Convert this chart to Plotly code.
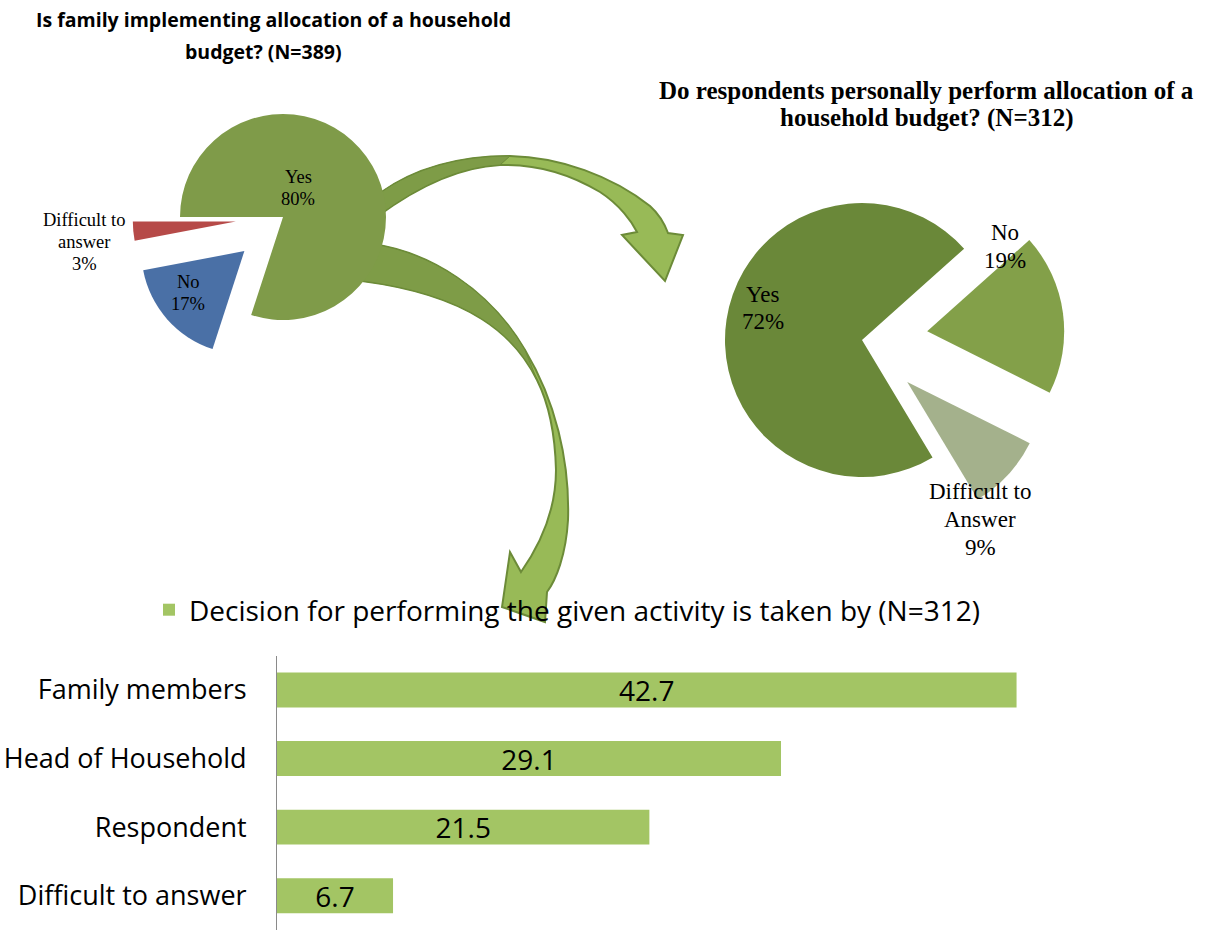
import plotly.graph_objects as go

W, H = 1210, 930

# --- data -------------------------------------------------------------
family_labels = ["Yes", "No", "Difficult to answer"]
family_values = [80, 17, 3]

personal_labels = ["Yes", "No", "Difficult to Answer"]
personal_values = [72, 19, 9]

decision_categories = ["Family members", "Head of Household", "Respondent", "Difficult to answer"]
decision_values = [42.7, 29.1, 21.5, 6.7]
decision_name = "Decision for performing the given activity is taken by (N=312)"

family_title = ["Is family implementing allocation of a household", "budget? (N=389)"]
personal_title = ["Do respondents personally perform allocation of a", "household budget? (N=312)"]

# --- styling ------------------------------------------------------------
family_colors = ["#7f9b49", "#4a70a6", "#b64a48"]
family_pull = [0, 0.5, 0.46]
personal_colors = ["#6a8839", "#83a049", "#a4b18c"]
personal_pull = [0, 0.48, 0.45]
bar_color = "#a3c564"
arrow_light = "#98ba57"
arrow_dark = "#7e9c47"
arrow_line = "#6c8b38"

SANS = "Open Sans"
SERIF = "Liberation Serif"


def px(x):
    return x / W


def py(y):
    return 1 - y / H


def pie_domain(cx, cy, r, max_pull):
    half = r * (1 + max_pull)
    return dict(x=[px(cx - half), px(cx + half)], y=[py(cy + half), py(cy - half)])


def path_paper(cmds):
    """Build an SVG path in paper coordinates from pixel-space commands."""
    out = []
    for c in cmds:
        if isinstance(c, str):
            out.append(c)
        else:
            out.append(f"{px(c[0]):.5f},{py(c[1]):.5f}")
    return " ".join(out)


fig = go.Figure()

# left pie: family allocation
fig.add_trace(go.Pie(
    labels=family_labels, values=family_values, sort=False,
    direction="clockwise", rotation=270, pull=family_pull,
    marker=dict(colors=family_colors, line=dict(width=0)),
    textinfo="none", hoverinfo="label+percent", showlegend=False,
    domain=pie_domain(283, 217, 103, max(family_pull)),
))

# right pie: personal allocation
fig.add_trace(go.Pie(
    labels=personal_labels, values=personal_values, sort=False,
    direction="clockwise", rotation=149, pull=personal_pull,
    marker=dict(colors=personal_colors, line=dict(width=0)),
    textinfo="none", hoverinfo="label+percent", showlegend=False,
    domain=pie_domain(862, 340, 137, max(personal_pull)),
))

# horizontal bars: who takes the decision
fig.add_trace(go.Bar(
    y=decision_categories, x=decision_values, orientation="h",
    name=decision_name, marker=dict(color=bar_color, line=dict(width=0)),
    text=[f"{v}" for v in decision_values], textposition="inside",
    insidetextanchor="middle", constraintext="none",
    textfont=dict(family=SANS, size=28, color="#000000"),
    showlegend=True, hoverinfo="y+x",
))

# curved connector arrows (drawn beneath the pies): light body + darker root
top_arrow = path_paper([
    "M", (380, 193),
    "C", (415, 168), (460, 156), (510, 156),
    "C", (560, 157), (612, 176), (650, 206),
    "C", (660, 215), (665, 225), (668, 233),
    "L", (683, 235), "L", (665, 281), "L", (622, 235), "L", (637, 232),
    "C", (632, 222), (620, 205), (600, 192),
    "C", (565, 171), (530, 164), (500, 165),
    "C", (460, 167), (420, 185), (378, 216),
    "Z",
])
top_arrow_root = path_paper([
    "M", (380, 193),
    "C", (415, 168), (460, 156), (510, 156),
    "L", (500, 165),
    "C", (460, 167), (420, 185), (378, 216),
    "Z",
])
bottom_arrow = path_paper([
    "M", (372, 244),
    "C", (430, 252), (490, 290), (525, 350),
    "C", (555, 400), (570, 460), (568, 520),
    "C", (566, 555), (556, 580), (547, 592),
    "L", (545, 622), "L", (502, 607), "L", (510, 552), "L", (521, 572),
    "C", (540, 545), (556, 510), (556, 470),
    "C", (555, 430), (547, 400), (537, 380),
    "C", (515, 335), (470, 295), (362, 281),
    "Z",
])
bottom_arrow_root = path_paper([
    "M", (372, 244),
    "C", (430, 252), (490, 290), (525, 350),
    "L", (537, 380),
    "C", (515, 335), (470, 295), (362, 281),
    "Z",
])
shapes = [
    dict(type="path", path=top_arrow, xref="paper", yref="paper", layer="below",
         fillcolor=arrow_light, line=dict(color=arrow_line, width=2)),
    dict(type="path", path=top_arrow_root, xref="paper", yref="paper", layer="below",
         fillcolor=arrow_dark, line=dict(color=arrow_line, width=1)),
    dict(type="path", path=bottom_arrow, xref="paper", yref="paper", layer="below",
         fillcolor=arrow_light, line=dict(color=arrow_line, width=2)),
    dict(type="path", path=bottom_arrow_root, xref="paper", yref="paper", layer="below",
         fillcolor=arrow_dark, line=dict(color=arrow_line, width=1)),
]

annotations = []


def add_lines(x, y0, lines, spacing, font):
    for i, line in enumerate(lines):
        annotations.append(dict(x=px(x), y=py(y0 + i * spacing), text=line, showarrow=False,
                                xanchor="center", yanchor="middle", xref="paper", yref="paper",
                                font=font))


# titles
title_sans = dict(family=SANS, size=19.5, color="#000000")
annotations.append(dict(x=px(273), y=py(20), text=f"<b>{family_title[0]}</b>", showarrow=False,
                        xanchor="center", yanchor="middle", xref="paper", yref="paper", font=title_sans))
annotations.append(dict(x=px(263), y=py(52), text=f"<b>{family_title[1]}</b>", showarrow=False,
                        xanchor="center", yanchor="middle", xref="paper", yref="paper", font=title_sans))
add_lines(926, 90, [f"<b>{t}</b>" for t in personal_title], 28,
          dict(family=SERIF, size=25, color="#000000"))

# pie slice labels
left_font = dict(family=SERIF, size=18.5, color="#000000")
family_label_pos = [(298, 177, ["Yes"]), (188, 282, ["No"]), (84, 220, ["Difficult to", "answer"])]
for (x, y, name), v in zip(family_label_pos, family_values):
    add_lines(x, y, name + [f"{v}%"], 22, left_font)

right_font = dict(family=SERIF, size=23, color="#000000")
personal_label_pos = [(763, 294, ["Yes"]), (1005, 232, ["No"]), (980, 491, ["Difficult to", "Answer"])]
for (x, y, name), v in zip(personal_label_pos, personal_values):
    add_lines(x, y, name + [f"{v}%"], 28, right_font)

fig.update_layout(
    width=W, height=H, autosize=False,
    margin=dict(l=0, r=0, t=0, b=0, autoexpand=False),
    paper_bgcolor="#ffffff", plot_bgcolor="#ffffff",
    shapes=shapes, annotations=annotations,
    bargap=0.49,
    xaxis=dict(domain=[px(277), px(1143)], range=[0, 50], showticklabels=False,
               showgrid=False, zeroline=False, showline=False, ticks="", automargin=False),
    yaxis=dict(domain=[0, 0.295], autorange="reversed", showgrid=False, zeroline=False,
               showline=True, linecolor="#8a8a8a", linewidth=1, ticks="",
               ticklabelstandoff=24, automargin=False,
               tickfont=dict(family=SANS, size=27, color="#000000")),
    legend=dict(orientation="h", x=px(149), y=py(610), xanchor="left", yanchor="middle",
                font=dict(family=SANS, size=28, color="#000000"),
                bgcolor="rgba(0,0,0,0)"),
    hovermode="closest",
)

fig.write_html("out.html")
